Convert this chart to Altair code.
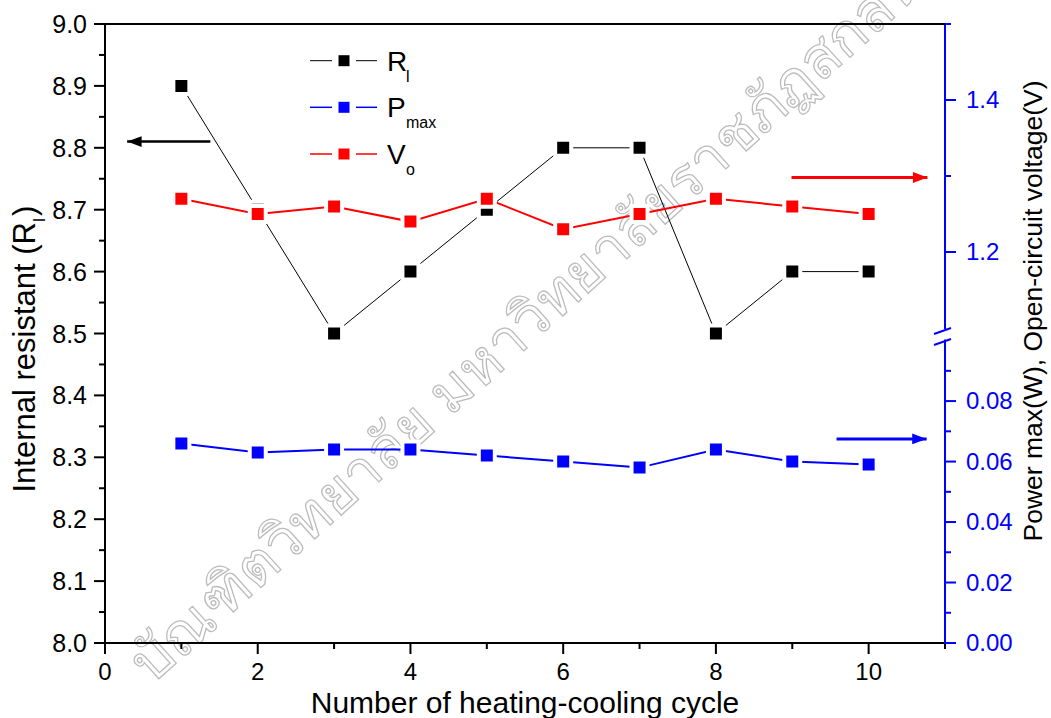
import altair as alt
import pandas as pd

# ---------------- data ----------------
cycles = [1, 2, 3, 4, 5, 6, 7, 8, 9, 10]
r_internal = [8.9, 8.7, 8.5, 8.6, 8.7, 8.8, 8.8, 8.5, 8.6, 8.6]
p_max = [0.066, 0.063, 0.064, 0.064, 0.062, 0.060, 0.058, 0.064, 0.060, 0.059]
v_open = [1.27, 1.25, 1.26, 1.24, 1.27, 1.23, 1.25, 1.27, 1.26, 1.25]

# tick values and labels
x_major = [0, 2, 4, 6, 8, 10]
x_labels = ["0", "2", "4", "6", "8", "10"]
x_minor = [1, 3, 5, 7, 9, 11]
left_major = [8.0, 8.1, 8.2, 8.3, 8.4, 8.5, 8.6, 8.7, 8.8, 8.9, 9.0]
left_labels = ["8.0", "8.1", "8.2", "8.3", "8.4", "8.5", "8.6", "8.7", "8.8", "8.9", "9.0"]
left_minor = [8.05, 8.15, 8.25, 8.35, 8.45, 8.55, 8.65, 8.75, 8.85, 8.95]
v_major = [1.2, 1.4]
v_labels = ["1.2", "1.4"]
v_minor = [1.3, 1.5]
p_major = [0.0, 0.02, 0.04, 0.06, 0.08]
p_labels = ["0.00", "0.02", "0.04", "0.06", "0.08"]
p_minor = [0.01, 0.03, 0.05, 0.07, 0.09]

# ---------------- styling ----------------
W, H = 840, 619
FONT = "Liberation Sans"
BLACK, RED, BLUE = "#000000", "#ff0000", "#0000ff"
MAJ, MIN = 11, 6

df = pd.DataFrame({"cycle": cycles, "R": r_internal, "P": p_max, "V": v_open})
one = pd.DataFrame({"k": [0]})

x_scale = alt.Scale(domain=[0, 11], nice=False, zero=False)
r_scale = alt.Scale(domain=[8, 9], nice=False, zero=False)
v_scale = alt.Scale(domain=[1.1, 1.5], range=[304, 0], nice=False, zero=False)
p_scale = alt.Scale(domain=[0, 0.1], range=[619, 316.6], nice=False, zero=False)


def Xf(field):
    return alt.X(f"{field}:Q", scale=x_scale, axis=None)


def Yf(field, scale):
    return alt.Y(f"{field}:Q", scale=scale, axis=None)


def series(field, scale, color, width):
    base = alt.Chart(df).encode(x=Xf("cycle"), y=Yf(field, scale))
    line = base.mark_line(color=color, strokeWidth=width)
    pts = base.mark_point(shape="square", filled=True, fill=color, stroke="white",
                          strokeWidth=4, size=256, opacity=1)
    return [line, pts]


def y_axis(scale, major, labels, minor, lo, hi, color, side, size):
    """Axis built from rules/text placed through the y scale."""
    dom = pd.DataFrame({"a": [lo], "b": [hi]})
    maj = pd.DataFrame({"v": major, "lab": labels})
    mnr = pd.DataFrame({"v": minor})
    if side == "left":
        x0, tx, tmaj, tmin, align = 0, -18, -MAJ, -MIN, "right"
    else:
        x0, tx, tmaj, tmin, align = W, W + 21, W + MAJ, W + MIN, "left"
    return [
        alt.Chart(dom).mark_rule(color=color, strokeWidth=2, strokeCap="square").encode(
            x=alt.value(x0), y=Yf("a", scale), y2="b:Q"),
        alt.Chart(maj).mark_rule(color=color, strokeWidth=2).encode(
            y=Yf("v", scale), x=alt.value(x0), x2=alt.value(tmaj)),
        alt.Chart(mnr).mark_rule(color=color, strokeWidth=2).encode(
            y=Yf("v", scale), x=alt.value(x0), x2=alt.value(tmin)),
        alt.Chart(maj).mark_text(font=FONT, fontSize=size, color=color, align=align,
                                 baseline="middle", dy=1).encode(
            y=Yf("v", scale), x=alt.value(tx), text="lab:N"),
    ]


def x_axis():
    maj = pd.DataFrame({"v": x_major, "lab": x_labels})
    mnr = pd.DataFrame({"v": x_minor})
    return [
        alt.Chart(one).mark_rule(color=BLACK, strokeWidth=2, strokeCap="square").encode(
            x=alt.value(0), x2=alt.value(W), y=alt.value(H)),
        alt.Chart(maj).mark_rule(color=BLACK, strokeWidth=2).encode(
            x=Xf("v"), y=alt.value(H), y2=alt.value(H + MAJ)),
        alt.Chart(mnr).mark_rule(color=BLACK, strokeWidth=2).encode(
            x=Xf("v"), y=alt.value(H), y2=alt.value(H + MIN)),
        alt.Chart(maj).mark_text(font=FONT, fontSize=24, color=BLACK, align="center",
                                 baseline="alphabetic").encode(
            x=Xf("v"), y=alt.value(H + 37), text="lab:N"),
    ]


ARROW_L = "M0,0 L2,-0.75 L2,0.75 Z"
ARROW_R = "M0,0 L-2,-0.75 L-2,0.75 Z"


def arrow(x0, x1, yv, scale, color, shape, width):
    d = pd.DataFrame({"xa": [x0], "xb": [x1], "ya": [yv]})
    shaft = alt.Chart(d).mark_rule(color=color, strokeWidth=width).encode(
        x=Xf("xa"), x2="xb:Q", y=Yf("ya", scale))
    head = alt.Chart(d).mark_point(shape=shape, filled=True, color=color, size=210, opacity=1).encode(
        x=Xf("xb"), y=Yf("ya", scale))
    return [shaft, head]


r_group = alt.layer(
    *x_axis(),
    *y_axis(r_scale, left_major, left_labels, left_minor, 8.0, 9.0, BLACK, "left", 25),
    *series("R", r_scale, BLACK, 1),
    *arrow(1.38, 0.29, 8.81, r_scale, BLACK, ARROW_L, 2.5),
)
v_group = alt.layer(
    *y_axis(v_scale, v_major, v_labels, v_minor, 1.1, 1.5, BLUE, "right", 24),
    *series("V", v_scale, RED, 2),
    *arrow(8.99, 10.77, 1.298, v_scale, RED, ARROW_R, 3),
)
p_group = alt.layer(
    *y_axis(p_scale, p_major, p_labels, p_minor, 0.0, 0.1, BLUE, "right", 24),
    *series("P", p_scale, BLUE, 2),
    *arrow(9.58, 10.76, 0.0675, p_scale, BLUE, ARROW_R, 3),
)


# ---------------- decorations ----------------
def rule(x1, x2, y1, y2, color, width):
    return alt.Chart(one).mark_rule(color=color, strokeWidth=width).encode(
        x=alt.value(x1), x2=alt.value(x2), y=alt.value(y1), y2=alt.value(y2))


def text(s, x, y, size, color=BLACK, angle=0, align="left", baseline="alphabetic"):
    return alt.Chart(one).mark_text(
        text=s, font=FONT, fontSize=size, color=color, angle=angle,
        align=align, baseline=baseline,
    ).encode(x=alt.value(x), y=alt.value(y))


deco = [
    rule(0, W, 0, 0, BLACK, 2),                 # top frame
    rule(829, 846, 310, 304, BLUE, 2),          # axis break
    rule(829, 846, 321, 315, BLUE, 2),
]

legend_rows = [("R", "l", BLACK, 36.7), ("P", "max", BLUE, 83.3), ("V", "o", RED, 130.0)]
for main, sub, col, yy in legend_rows:
    lw = 1 if col == BLACK else 1.5
    deco.append(rule(205, 227, yy, yy, col, lw))
    deco.append(rule(251, 272, yy, yy, col, lw))
    deco.append(
        alt.Chart(one).mark_point(shape="square", filled=True, color=col, size=121, opacity=1)
        .encode(x=alt.value(239), y=alt.value(yy))
    )
    deco.append(text(main, 282, yy + 10, 28))
    deco.append(text(sub, 301, yy + 21, 16))

deco.append(text("Internal resistant (R", -70, 198, 31, angle=270, align="right"))
deco.append(text("l", -60, 198, 17, angle=270, align="left"))
deco.append(text(")", -70, 192, 31, angle=270, align="left"))
deco.append(text("Power max(W), Open-circuit voltage(V)", 937, 287, 26.5, angle=270, align="center"))
deco.append(text("Number of heating-cooling cycle", 420, 689, 30, align="center"))

watermark = alt.Chart(one).mark_text(
    text="บัณฑิตวิทยาลัย  มหาวิทยาลัยราชภัฏสกลนคร", fontSize=58, angle=318,
    align="center", baseline="middle", fill="white", stroke="#bcbcbc", strokeWidth=1.3,
).encode(x=alt.value(450), y=alt.value(276))

chart = alt.layer(watermark, r_group, v_group, p_group, *deco).resolve_scale(
    y="independent"
).properties(
    width=W, height=H,
    autosize=alt.AutoSizeParams(type="none"),
    padding={"left": 105, "top": 24, "right": 106, "bottom": 75},
    background="white",
).configure_view(stroke=None)

chart.save("out.html", embed_options={"renderer": "svg", "actions": False})
